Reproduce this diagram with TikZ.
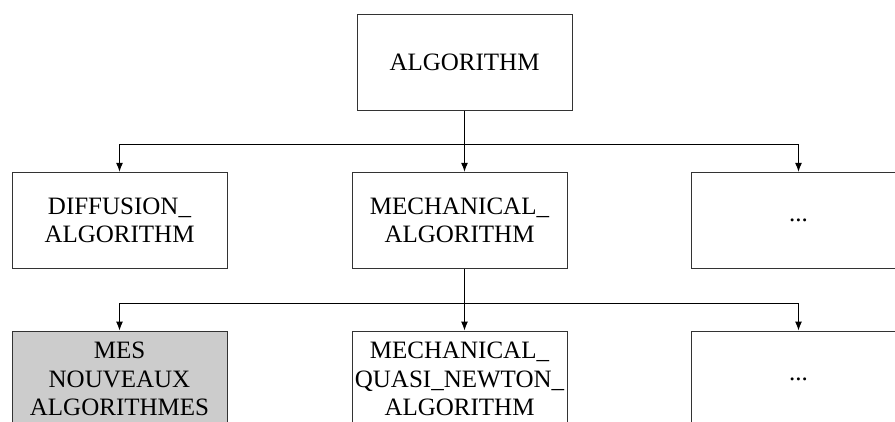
\documentclass[tikz,border=0pt]{standalone}
\usepackage{fontspec}
\setmainfont{Liberation Serif}
\usetikzlibrary{arrows.meta}
\definecolor{boxgray}{HTML}{CCCCCC}
\begin{document}
\begin{tikzpicture}[x=1pt,y=1pt,
  classbox/.style={draw=black!80, line width=1pt, minimum width=215pt, minimum height=96pt,
    inner sep=0pt, align=center, font=\fontsize{25}{28.3}\selectfont},
  conn/.style={line width=1pt, black},
  arr/.style={conn, -{Latex[length=9pt,width=7pt]}}]
\useasboundingbox (0,0) rectangle (895,-421);
\clip (0,0) rectangle (895,-421);
\node[classbox] (top) at (464.5,-62) {ALGORITHM};
\node[classbox] (diff) at (119.5,-220.3) {DIFFUSION\_\\ALGORITHM};
\node[classbox] (mech) at (459.5,-220.3) {MECHANICAL\_\\ALGORITHM};
\node[classbox] (dotsa) at (798.5,-220.3) {...};
\node[classbox, fill=boxgray] (mes) at (119.5,-379) {MES\\NOUVEAUX\\ALGORITHMES};
\node[classbox] (quasi) at (459.5,-379) {MECHANICAL\_\\QUASI\_NEWTON\_\\ALGORITHM};
\node[classbox] (dotsb) at (798.5,-379) {...};
\coordinate (ja) at (464.5,-144);
\coordinate (jb) at (464.5,-303);
\draw[conn] (top.south) -- (ja);
\draw[arr] (ja) -| (diff.north);
\draw[arr] (ja) -| (dotsa.north);
\draw[arr] (ja) -- (ja |- mech.north);
\draw[conn] (jb |- mech.south) -- (jb);
\draw[arr] (jb) -| (mes.north);
\draw[arr] (jb) -| (dotsb.north);
\draw[arr] (jb) -- (jb |- quasi.north);
\end{tikzpicture}
\end{document}
